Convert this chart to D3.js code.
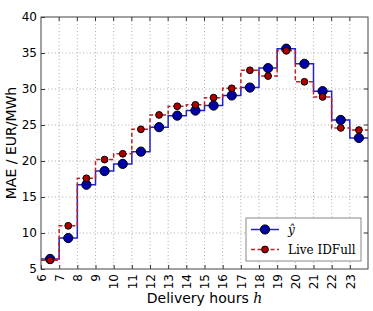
<!DOCTYPE html>
<html>
<head>
<meta charset="utf-8">
<script src="https://cdn.jsdelivr.net/npm/d3@7"></script>
<style>
  body { margin: 0; background: #fff; }
  svg { display: block; }
  .tick text { font-family: "DejaVu Sans", sans-serif; font-size: 12px; fill: #000; }
  .grid line { stroke: #999; stroke-dasharray: 1,2.5; stroke-width: 0.8; }
</style>
</head>
<body>
<div id="chart"></div>
<script>
// delivery hours (left edge of each hourly step)
const hours = [6, 7, 8, 9, 10, 11, 12, 13, 14, 15, 16, 17, 18, 19, 20, 21, 22, 23];
// MAE in EUR/MWh for the forecast y-hat
const yHat = [6.4, 9.3, 16.7, 18.6, 19.6, 21.3, 24.7, 26.3, 27.0, 27.7, 29.1, 30.2, 32.9, 35.6, 33.5, 29.7, 25.7, 23.2];
// MAE in EUR/MWh for Live IDFull
const liveIDFull = [6.2, 11.0, 17.6, 20.2, 21.0, 24.4, 26.4, 27.6, 27.8, 28.8, 30.1, 32.6, 31.8, 35.3, 31.0, 28.9, 24.6, 24.3];
const yTicks = [5, 10, 15, 20, 25, 30, 35, 40];

const W = 373, H = 311;
const margin = { top: 17, right: 5, bottom: 42, left: 41 };
const width = W - margin.left - margin.right;
const height = H - margin.top - margin.bottom;

const svg = d3.select("#chart").append("svg")
    .attr("width", W)
    .attr("height", H);

const plot = svg.append("g")
    .attr("transform", `translate(${margin.left},${margin.top})`);

const x = d3.scaleLinear().domain([6, 24]).range([0, width]);
const y = d3.scaleLinear().domain([5, 40]).range([height, 0]);

// grid
plot.append("g")
    .attr("class", "grid")
    .selectAll("line.gx")
    .data(hours.slice(1))
    .enter().append("line")
    .attr("x1", d => x(d)).attr("x2", d => x(d))
    .attr("y1", 0).attr("y2", height);

plot.append("g")
    .attr("class", "grid")
    .selectAll("line.gy")
    .data(yTicks.slice(1, -1))
    .enter().append("line")
    .attr("x1", 0).attr("x2", width)
    .attr("y1", d => y(d)).attr("y2", d => y(d));

// axes, ticks pointing inward
const xAxis = d3.axisBottom(x).tickValues(hours).tickFormat(d3.format("d")).tickSize(-4).tickPadding(5);
const yAxis = d3.axisLeft(y).tickValues(yTicks).tickSize(-4).tickPadding(4);

const gx = plot.append("g")
    .attr("transform", `translate(0,${height})`)
    .call(xAxis);
gx.select(".domain").remove();
gx.selectAll(".tick line").attr("stroke", "#333");
gx.selectAll(".tick text")
    .attr("transform", "rotate(-90)")
    .attr("text-anchor", "end")
    .attr("x", -5)
    .attr("y", 0)
    .attr("dy", "0.35em");

const gy = plot.append("g").call(yAxis);
gy.select(".domain").remove();
gy.selectAll(".tick line").attr("stroke", "#333");

// top / right ticks
plot.append("g").selectAll("line")
    .data(hours.slice(1))
    .enter().append("line")
    .attr("x1", d => x(d)).attr("x2", d => x(d))
    .attr("y1", 0).attr("y2", 4)
    .attr("stroke", "#333");
plot.append("g").selectAll("line")
    .data(yTicks.slice(1, -1))
    .enter().append("line")
    .attr("x1", width).attr("x2", width - 4)
    .attr("y1", d => y(d)).attr("y2", d => y(d))
    .attr("stroke", "#333");

// step lines: each hour holds its value from h to h+1
function stepPoints(vals) {
    let pts = [];
    hours.forEach((h, i) => {
        pts.push([h, vals[i]]);
        pts.push([h + 1, vals[i]]);
    });
    return pts;
}

const line = d3.line()
    .x(d => x(d[0]))
    .y(d => y(d[1]));

const series = [
    { name: "yhat", vals: yHat, stroke: "#2222cc", dash: null, fill: "#0000aa", r: 4.6 },
    { name: "live", vals: liveIDFull, stroke: "#bb2222", dash: "4,2.5", fill: "#aa0000", r: 3.4 }
];

const clip = svg.append("clipPath").attr("id", "clip")
    .append("rect").attr("width", width).attr("height", height);

series.forEach(s => {
    plot.append("path")
        .datum(stepPoints(s.vals))
        .attr("clip-path", "url(#clip)")
        .attr("fill", "none")
        .attr("stroke", s.stroke)
        .attr("stroke-width", 1.5)
        .attr("stroke-dasharray", s.dash)
        .attr("d", line);

    plot.selectAll(".dot-" + s.name)
        .data(s.vals)
        .enter().append("circle")
        .attr("class", "dot-" + s.name)
        .attr("cx", (d, i) => x(hours[i] + 0.5))
        .attr("cy", d => y(d))
        .attr("r", s.r)
        .attr("fill", s.fill)
        .attr("stroke", "#000")
        .attr("stroke-width", 1);
});

// frame
plot.append("rect")
    .attr("width", width)
    .attr("height", height)
    .attr("fill", "none")
    .attr("stroke", "#444")
    .attr("stroke-width", 1);

// axis labels
svg.append("text")
    .attr("transform", `translate(16,${margin.top + height / 2}) rotate(-90)`)
    .attr("text-anchor", "middle")
    .style("font-family", "DejaVu Sans, sans-serif")
    .style("font-size", "14px")
    .text("MAE / EUR/MWh");

const xl = svg.append("text")
    .attr("x", margin.left + width / 2)
    .attr("y", 303)
    .attr("text-anchor", "middle")
    .style("font-family", "DejaVu Sans, sans-serif")
    .style("font-size", "14px");
xl.append("tspan").text("Delivery hours ");
xl.append("tspan").style("font-family", "DejaVu Serif, serif").style("font-style", "italic").text("h");

// legend
const lg = svg.append("g").attr("transform", "translate(246,218)");
lg.append("rect")
    .attr("width", 115).attr("height", 43)
    .attr("fill", "#fff")
    .attr("stroke", "#888");

const labels = ["ŷ", "Live IDFull"];
series.forEach((s, i) => {
    const ly = 11.5 + i * 20;
    lg.append("line")
        .attr("x1", 5).attr("x2", 33)
        .attr("y1", ly).attr("y2", ly)
        .attr("stroke", s.stroke)
        .attr("stroke-width", 1.5)
        .attr("stroke-dasharray", s.dash);
    lg.append("circle")
        .attr("cx", 19).attr("cy", ly)
        .attr("r", s.r)
        .attr("fill", s.fill)
        .attr("stroke", "#000");
    lg.append("text")
        .attr("x", 42).attr("y", ly)
        .attr("dy", "0.35em")
        .style("font-family", "DejaVu Serif, serif")
        .style("font-size", "12px")
        .style("font-style", i === 0 ? "italic" : "normal")
        .text(labels[i]);
});
</script>
</body>
</html>
